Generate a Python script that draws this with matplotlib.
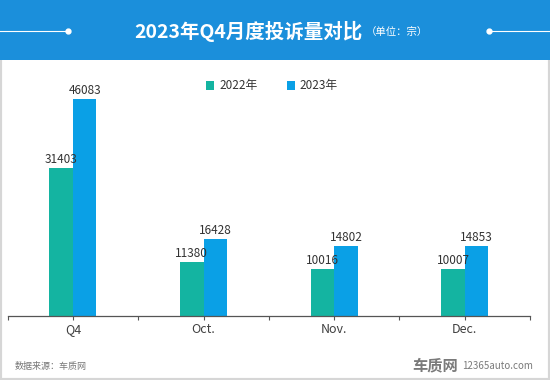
import numpy as np
import matplotlib
matplotlib.use("Agg")
import matplotlib.pyplot as plt
from matplotlib.patches import Rectangle
from matplotlib.lines import Line2D

plt.rcParams['font.family'] = ['Noto Sans CJK SC', 'DejaVu Sans']

# data
categories = ['Q4', 'Oct.', 'Nov.', 'Dec.']
series_names = ['2022年', '2023年']
values_2022 = [31403, 11380, 10016, 10007]
values_2023 = [46083, 16428, 14802, 14853]

title = '2023年Q4月度投诉量对比'
unit = '（单位：宗）'
source = '数据来源：车质网'

green = '#14b4a1'
blue = '#0aa0e6'
band = '#1b8fdb'

fig = plt.figure(figsize=(5.5, 3.8), dpi=100)
W, H = 550, 380

# frame and title band (behind the axes)
fig.patches.append(Rectangle((0, 0), 1, 1, transform=fig.transFigure,
                             facecolor='white', edgecolor='#d6d6d6', lw=3,
                             zorder=-3))
fig.patches.append(Rectangle((0, 1 - 60 / H), 1, 60 / H, transform=fig.transFigure,
                             facecolor=band, edgecolor='none', zorder=-2))
ty = 1 - 31 / H
fig.lines.append(Line2D([0, 68 / W], [ty, ty], transform=fig.transFigure,
                        color='white', lw=0.8))
fig.lines.append(Line2D([489 / W, 1], [ty, ty], transform=fig.transFigure,
                        color='white', lw=0.8))
fig.lines.append(Line2D([68 / W, 489 / W], [ty, ty], transform=fig.transFigure,
                        ls='none', marker='o', ms=3.5, color='white'))
fig.text(248 / W, ty, title, color='white', fontsize=14, fontweight='bold',
         ha='center', va='center')
fig.text(366 / W, ty - 1 / H, unit, color='white', fontsize=7.5,
         ha='left', va='center')

# axes
left, right, bottom = 7.7, 530, 316
ymax = 50000
scale = 217 / 46083
ax = fig.add_axes([left / W, (H - bottom) / H, (right - left) / W,
                   ymax * scale / H])
ax.patch.set_alpha(0)
x = np.arange(len(categories))
w = 0.18
b1 = ax.bar(x - w / 2, values_2022, w, color=green, label=series_names[0])
b2 = ax.bar(x + w / 2, values_2023, w, color=blue, label=series_names[1])
for bars in (b1, b2):
    for r in bars:
        ax.annotate(str(int(r.get_height())),
                    (r.get_x() + r.get_width() / 2, r.get_height()),
                    xytext=(0, 1.5), textcoords='offset points',
                    ha='center', va='bottom', fontsize=8.5, color='#333333')

ax.set_xlim(-0.5, len(categories) - 0.5)
ax.set_ylim(0, ymax)
ax.set_xticks(x)
ax.set_xticklabels(categories, fontsize=9, color='#404040')
ax.set_xticks(np.arange(len(categories) + 1) - 0.5, minor=True)
ax.tick_params(axis='x', which='both', length=3, width=0.8, color='#555555',
               pad=2)
ax.set_yticks([])
for s in ['top', 'right', 'left']:
    ax.spines[s].set_visible(False)
ax.spines['bottom'].set_color('#555555')
ax.spines['bottom'].set_linewidth(0.9)

fig.legend(handles=[b1, b2], labels=series_names, loc='center',
           bbox_to_anchor=(272 / W, 1 - 86 / H), ncol=2, frameon=False,
           fontsize=8.5, handlelength=0.7, handleheight=0.7,
           handletextpad=0.4, columnspacing=2.5, labelcolor='#333333')

# footer
fig.text(15 / W, 1 - 366 / H, source, fontsize=6.5, color='#777777',
         ha='left', va='center')
fig.text(458 / W, 1 - 365 / H, '车质网', fontsize=11, fontweight='bold',
         color='#7a7a7a', ha='right', va='center')
fig.text(462 / W, 1 - 366 / H, '12365auto.com', fontsize=7, color='#7a7a7a',
         ha='left', va='center')

fig.savefig('out.png', dpi=100)
